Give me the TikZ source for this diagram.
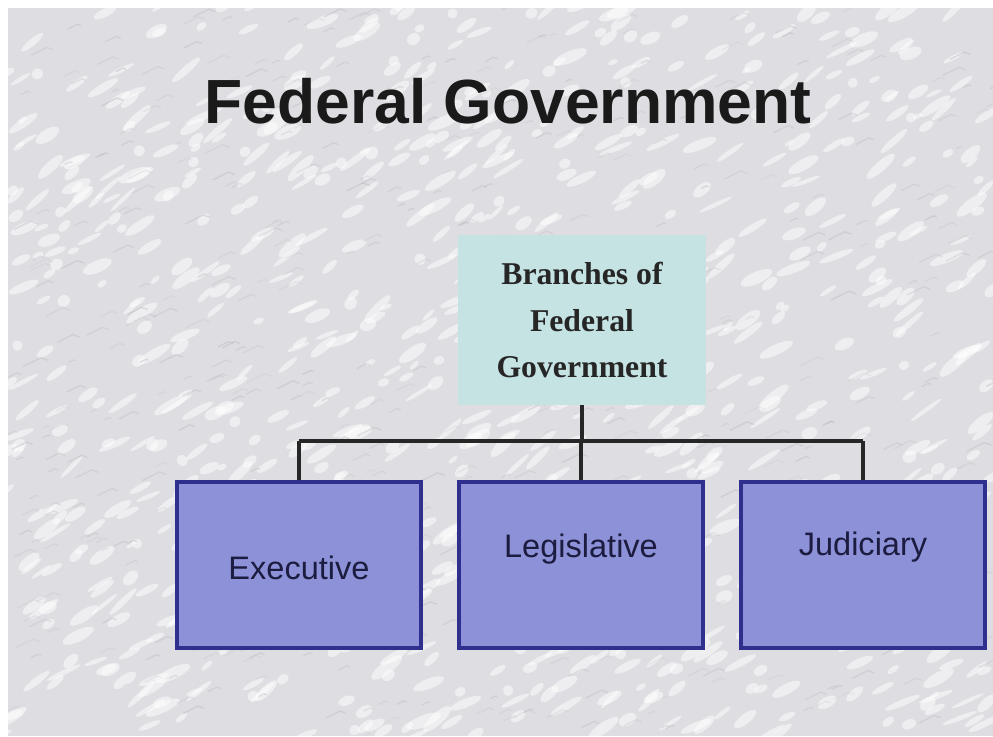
\documentclass[tikz,border=0pt]{standalone}
\usepackage{fontspec}
\setmainfont{Liberation Serif}
\newfontfamily\arialfont{Liberation Sans}
\definecolor{marble}{HTML}{DEDEE2}
\definecolor{vein}{HTML}{B8B8BE}
\definecolor{topfill}{HTML}{C6E3E4}
\definecolor{branchfill}{HTML}{8C91D8}
\definecolor{branchdraw}{HTML}{2F2F8E}
\definecolor{branchtext}{HTML}{1C1C40}
\definecolor{titletext}{HTML}{1A1A1A}
\tikzset{
  titlestyle/.style={font=\arialfont\bfseries\fontsize{46.8pt}{50pt}\selectfont, text=titletext, inner sep=0pt},
  topbox/.style={fill=topfill, draw=none, minimum width=186pt, minimum height=127.5pt, inner sep=0pt, align=center,
    font=\bfseries\fontsize{23.8pt}{35pt}\selectfont, text=black!85},
  branchbox/.style={fill=branchfill, draw=branchdraw, line width=3pt, minimum width=183pt, minimum height=124.5pt, inner sep=0pt},
  branchlabel/.style={font=\arialfont\fontsize{24.4pt}{28pt}\selectfont, text=branchtext, inner sep=0pt},
  connector/.style={draw=black!85, line width=2.5pt},
}
\begin{document}
\begin{tikzpicture}[x=0.75pt,y=-0.75pt]
  % background
  \fill[marble] (0,0) rectangle (993,736);
  \useasboundingbox (0,0) rectangle (993,736);
  \pgfmathsetseed{11}
  \foreach \i in {1,...,900} {
    \pgfmathsetmacro{\px}{rnd*993}
    \pgfmathsetmacro{\py}{rnd*736}
    \pgfmathsetmacro{\rx}{5+rnd*14}
    \pgfmathsetmacro{\ry}{2+rnd*4}
    \pgfmathsetmacro{\rot}{20+rnd*25}
    \fill[white, opacity=0.5, rotate around={\rot:(\px,\py)}] (\px,\py) ellipse[x radius=\rx, y radius=\ry];
  }
  \foreach \i in {1,...,500} {
    \pgfmathsetmacro{\px}{rnd*993}
    \pgfmathsetmacro{\py}{rnd*736}
    \pgfmathsetmacro{\ln}{4+rnd*14}
    \pgfmathsetmacro{\op}{0.15+rnd*0.3}
    \draw[vein, line width=1pt, opacity=\op, line cap=round] (\px,\py) -- ++(\ln,-0.5*\ln) -- ++(0.4*\ln,0.15*\ln);
  }
  \fill[white] (0,0) rectangle (993,8);
  \fill[white] (0,0) rectangle (8,736);

  % title
  \node[titlestyle, anchor=base] (title) at (508,123) {Federal Government};

  % top box
  \node[topbox] (top) at (582,320) {Branches of\\Federal\\Government};

  % branch boxes
  \node[branchbox, label={[branchlabel, yshift=-2.5pt]center:Executive}] (exec) at (299,565) {};
  \node[branchbox, label={[branchlabel, yshift=12pt]center:Legislative}] (leg) at (581,565) {};
  \node[branchbox, label={[branchlabel, yshift=13.5pt]center:Judiciary}] (jud) at (863,565) {};

  % connectors
  \coordinate (hub) at (581,441);
  \draw[connector] (top.south) -- (top.south |- hub);
  \draw[connector] (exec.north |- hub) -- (jud.north |- hub);
  \draw[connector] (exec.north |- hub) -- (exec.north);
  \draw[connector] (leg.north |- hub) -- (leg.north);
  \draw[connector] (jud.north |- hub) -- (jud.north);
\end{tikzpicture}
\end{document}
